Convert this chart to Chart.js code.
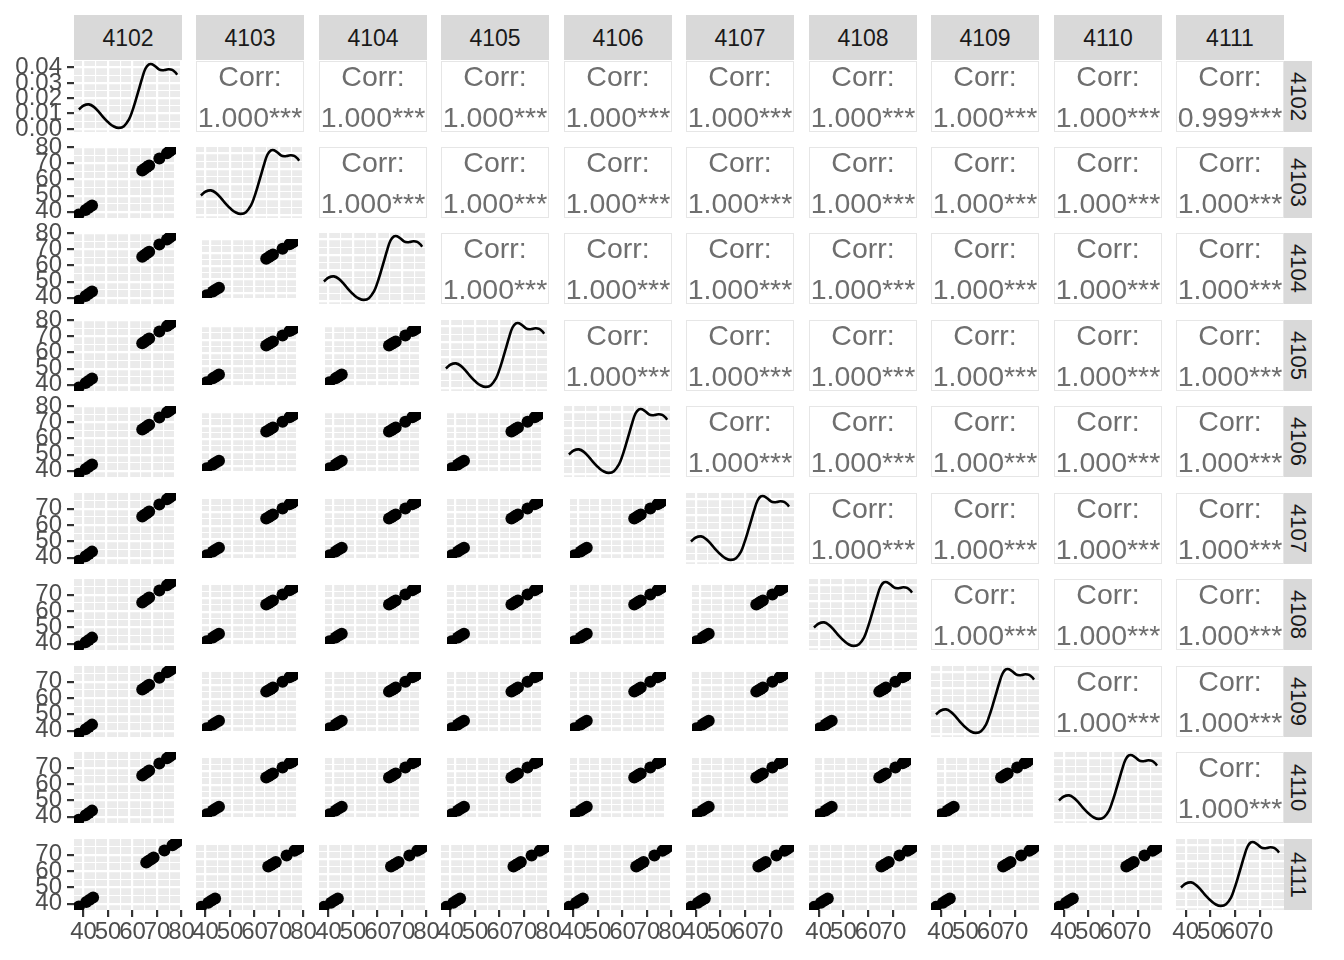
<!DOCTYPE html>
<html><head><meta charset="utf-8">
<script src="https://cdn.jsdelivr.net/npm/chart.js@4"></script>
<style>
html,body{margin:0;padding:0;background:#fff}
body{width:1344px;height:960px;position:relative;overflow:hidden;font-family:"Liberation Sans",Arial,sans-serif}
canvas{position:absolute}
.strip{position:absolute;background:#D9D9D9;color:#1A1A1A;font-size:23px;display:flex;align-items:center;justify-content:center;box-sizing:border-box;padding-top:2px}
.strip.v{writing-mode:vertical-rl;font-size:22px;padding-top:0}
.corr{position:absolute;background:#fff;border:1px solid #E6E6E6;box-sizing:border-box}
.corr div{position:absolute;left:-20px;right:-20px;text-align:center;color:#6E6E6E;font-size:28.5px;height:30px;line-height:30px;white-space:nowrap}
</style></head>
<body>
<script>
// ---- data ----
const varNames = ['4102','4103','4104','4105','4106','4107','4108','4109','4110','4111'];
const v4102 = [38.1, 41.1, 42.5, 43.9, 65.6, 66.6, 67.6, 68.6, 73.0, 76.3, 77.3, 78.2];
const v4103 = [38.2, 41.1, 42.5, 43.9, 65.6, 66.7, 67.7, 68.7, 73.1, 76.3, 77.4, 78.3];
const v4104 = [38.1, 41.0, 42.4, 43.8, 65.5, 66.6, 67.6, 68.6, 73.0, 76.2, 77.3, 78.2];
const v4105 = [38.2, 41.1, 42.5, 43.9, 65.7, 66.7, 67.7, 68.7, 73.1, 76.4, 77.4, 78.3];
const v4106 = [38.1, 41.0, 42.4, 43.8, 65.6, 66.6, 67.6, 68.6, 73.0, 76.3, 77.3, 78.2];
const v4107 = [38.1, 40.9, 42.3, 43.7, 65.3, 66.3, 67.3, 68.3, 72.6, 75.9, 76.8, 77.7];
const v4108 = [38.2, 40.9, 42.3, 43.7, 65.3, 66.3, 67.3, 68.3, 72.6, 75.9, 76.9, 77.7];
const v4109 = [38.1, 40.9, 42.3, 43.7, 65.2, 66.2, 67.2, 68.2, 72.5, 75.8, 76.8, 77.6];
const v4110 = [38.1, 40.9, 42.3, 43.7, 65.3, 66.3, 67.3, 68.3, 72.6, 75.9, 76.8, 77.7];
const v4111 = [38.2, 41.0, 42.4, 43.8, 65.3, 66.3, 67.3, 68.3, 72.6, 75.9, 76.9, 77.8];
const seriesList = [v4102, v4103, v4104, v4105, v4106, v4107, v4108, v4109, v4110, v4111];

// axis limits per variable group
const rangeA = [36.1, 80.2];
const rangeB = [36.1, 79.7];
const varRanges = [rangeA, rangeA, rangeA, rangeA, rangeA, rangeB, rangeB, rangeB, rangeB, rangeB];
const densRange = [-0.002, 0.0443];

// density curves
const densXA = [38.1, 40.1, 42.2, 44.2, 46.3, 48.3, 50.3, 52.4, 54.4, 56.5, 58.5, 59.9, 61.2, 62.6, 64.0, 65.3, 66.7, 68.0, 69.4, 70.8, 72.1, 73.5, 74.8, 76.2, 77.6, 78.2];
const densXB = [38.1, 40.1, 42.2, 44.1, 46.2, 48.2, 50.2, 52.2, 54.2, 56.3, 58.3, 59.6, 60.9, 62.3, 63.7, 65.0, 66.3, 67.6, 69.0, 70.4, 71.7, 73.1, 74.3, 75.7, 77.1, 77.7];
const densY  = [0.0127, 0.0153, 0.0160, 0.0144, 0.0110, 0.0072, 0.0040, 0.0016, 0.0007, 0.0018, 0.0061, 0.0116, 0.0182, 0.0258, 0.0335, 0.0394, 0.0421, 0.0422, 0.0407, 0.0389, 0.0383, 0.0385, 0.0389, 0.0385, 0.0367, 0.0354];
const densXList = [densXA, densXA, densXA, densXA, densXA, densXB, densXB, densXB, densXB, densXB];

// correlation labels (upper triangle, row by row)
const corrRow4102 = ['1.000','1.000','1.000','1.000','1.000','1.000','1.000','1.000','0.999'];
const corrRow4103 = ['1.000','1.000','1.000','1.000','1.000','1.000','1.000','1.000'];
const corrRow4104 = ['1.000','1.000','1.000','1.000','1.000','1.000','1.000'];
const corrRow4105 = ['1.000','1.000','1.000','1.000','1.000','1.000'];
const corrRow4106 = ['1.000','1.000','1.000','1.000','1.000'];
const corrRow4107 = ['1.000','1.000','1.000','1.000'];
const corrRow4108 = ['1.000','1.000','1.000'];
const corrRow4109 = ['1.000','1.000'];
const corrRow4110 = ['1.000'];
const corrRows = [corrRow4102, corrRow4103, corrRow4104, corrRow4105, corrRow4106, corrRow4107, corrRow4108, corrRow4109, corrRow4110];
const corrStars = '***';

// ---- layout ----
const N = varNames.length;
const COL0 = 74, COLP = 122.45, PW = 108;
const ROW0 = 60.5, ROWP = 86.45, PH = 71;
const FONT = {family: '"Liberation Sans", Arial, sans-serif', size: 24};
const colLeft = j => Math.round(COL0 + j * COLP);
const rowTop = i => Math.round(ROW0 + i * ROWP);

const bgPlugin = {
  id: 'panelBg',
  beforeDraw(chart) {
    const a = chart.chartArea, c = chart.ctx;
    c.save(); c.fillStyle = '#EBEBEB';
    c.fillRect(a.left, a.top, a.right - a.left, a.bottom - a.top);
    c.restore();
  }
};

function isMajor(v, dens) {
  return dens ? Math.round(v * 1000) % 10 === 0 : Math.round(v) % 10 === 0;
}

function axis(horizontal, show, size, range, dens) {
  return {
    type: 'linear', min: range[0], max: range[1],
    ticks: {
      display: show, stepSize: dens ? 0.005 : 5, includeBounds: false,
      autoSkip: false, maxRotation: 0, minRotation: 0,
      color: '#4D4D4D', font: FONT, padding: horizontal ? 1 : 5,
      callback: v => isMajor(v, dens) ? (dens ? v.toFixed(2) : String(Math.round(v))) : ''
    },
    grid: {
      color: '#FFFFFF',
      lineWidth: ctx => (ctx.tick && isMajor(ctx.tick.value, dens)) ? 2.2 : 1.1,
      drawTicks: show, tickLength: 7, tickWidth: 2.2,
      tickColor: ctx => (ctx.tick && isMajor(ctx.tick.value, dens)) ? '#333333' : 'rgba(0,0,0,0)'
    },
    border: {display: false},
    afterFit: s => {
      if (horizontal) s.height = size; else s.width = size;
      s.paddingLeft = 0; s.paddingRight = 0; s.paddingTop = 0; s.paddingBottom = 0;
    }
  };
}

function makePanel(i, j) {
  const left = colLeft(j), top = rowTop(i), right = left + PW, bottom = top + PH;
  const hasY = j === 0, hasX = i === N - 1;
  const padL = hasY ? 0 : (hasX ? 20 : 0);
  const padR = hasX ? 20 : 0;
  const padT = hasY ? 14 : 0;
  const padB = hasX ? 0 : (hasY ? 14 : 0);
  const cx0 = hasY ? 0 : left - padL;
  const cy0 = top - padT;
  const cx1 = right + padR;
  const cy1 = hasX ? 960 : bottom + padB;
  const cv = document.createElement('canvas');
  cv.width = cx1 - cx0; cv.height = cy1 - cy0;
  cv.style.left = cx0 + 'px'; cv.style.top = cy0 + 'px';
  cv.style.width = cv.width + 'px'; cv.style.height = cv.height + 'px';
  document.body.appendChild(cv);

  const diag = i === j;
  let datasets;
  if (diag) {
    const dx = densXList[j];
    datasets = [{
      type: 'line', data: dx.map((x, k) => ({x: x, y: densY[k]})),
      borderColor: '#000000', borderWidth: 2.6, pointRadius: 0, tension: 0.4, fill: false, clip: 0
    }];
  } else {
    const xs = seriesList[j], ys = seriesList[i];
    datasets = [{
      type: 'scatter', data: xs.map((x, k) => ({x: x, y: ys[k]})),
      pointRadius: 6, pointBackgroundColor: '#000000', pointBorderWidth: 0, borderColor: '#000000', clip: 0
    }];
  }
  new Chart(cv, {
    type: diag ? 'line' : 'scatter',
    data: {datasets},
    options: {
      responsive: false, animation: false, devicePixelRatio: 1, events: [],
      layout: {padding: {left: padL, right: padR, top: padT, bottom: padB}},
      plugins: {legend: {display: false}, tooltip: {enabled: false}},
      scales: {
        x: axis(true, hasX, hasX ? 960 - bottom : 0, varRanges[j], false),
        y: axis(false, hasY, hasY ? left : 0, diag ? densRange : varRanges[i], diag)
      }
    },
    plugins: [bgPlugin]
  });
}

function makeCorr(i, j) {
  const d = document.createElement('div');
  d.className = 'corr';
  d.style.left = colLeft(j) + 'px'; d.style.top = rowTop(i) + 'px';
  d.style.width = PW + 'px'; d.style.height = PH + 'px';
  const l1 = document.createElement('div'); l1.textContent = 'Corr:'; l1.style.top = '-1px';
  const l2 = document.createElement('div'); l2.textContent = corrRows[i][j - i - 1] + corrStars; l2.style.top = '40px';
  d.appendChild(l1); d.appendChild(l2);
  document.body.appendChild(d);
}

for (let j = 0; j < N; j++) {
  const s = document.createElement('div');
  s.className = 'strip'; s.textContent = varNames[j];
  s.style.left = colLeft(j) + 'px'; s.style.top = '15px';
  s.style.width = PW + 'px'; s.style.height = '45px';
  document.body.appendChild(s);
}
for (let i = 0; i < N; i++) {
  const s = document.createElement('div');
  s.className = 'strip v'; s.textContent = varNames[i];
  s.style.left = '1284px'; s.style.top = rowTop(i) + 'px';
  s.style.width = '28px'; s.style.height = PH + 'px';
  document.body.appendChild(s);
}
for (let i = 0; i < N; i++) {
  for (let j = 0; j < N; j++) {
    if (j > i) makeCorr(i, j); else makePanel(i, j);
  }
}
</script>
</body></html>
